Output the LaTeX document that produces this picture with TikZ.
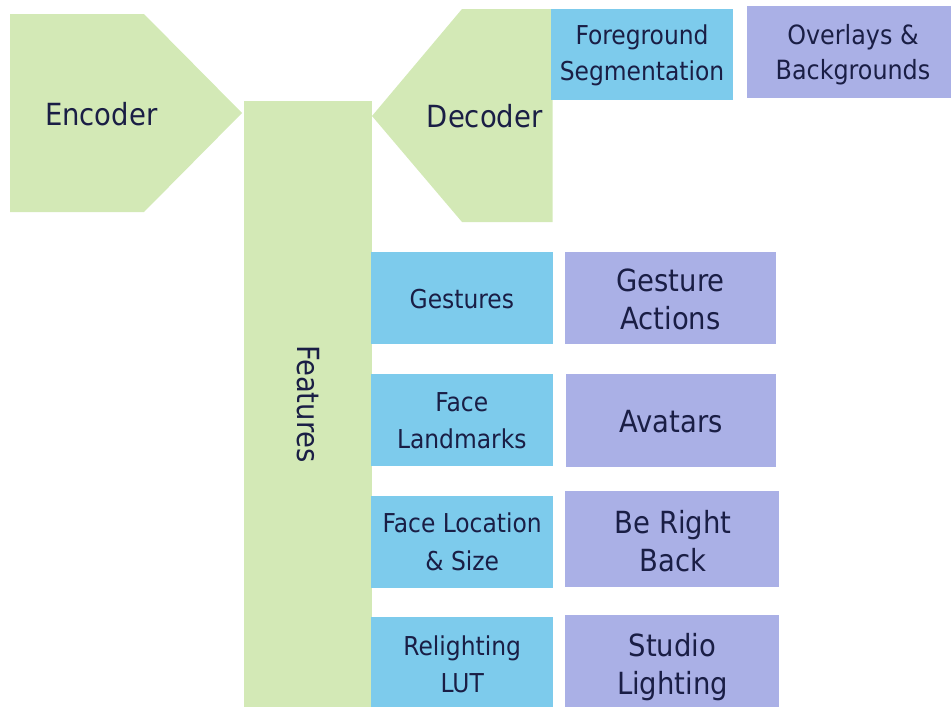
\documentclass[tikz,border=0pt]{standalone}
\usepackage{fontspec}
\setmainfont{DejaVu Sans Condensed}
\definecolor{leaf}{RGB}{211,233,182}
\definecolor{sky}{RGB}{125,203,236}
\definecolor{lilac}{RGB}{170,176,230}
\definecolor{ink}{RGB}{26,30,69}
% two centred lines; the baseline is that of the first line
\newcommand\twolines[2]{\begin{tabular}[t]{@{}c@{}}#1\\#2\end{tabular}}
\tikzset{
  txt/.style={text=ink, inner sep=0pt, anchor=base},
  bluetxt/.style={txt, font=\fontsize{26}{37.5}\selectfont},
  lilactxt/.style={txt, font=\fontsize{30.5}{38}\selectfont},
  bigtxt/.style={txt, font=\fontsize{30.5}{36}\selectfont},
  bluebox/.style={fill=sky, inner sep=0pt},
  lilacbox/.style={fill=lilac, inner sep=0pt},
  greenfill/.style={fill=leaf},
}
\begin{document}
\begin{tikzpicture}[x=1pt,y=-1pt]
\useasboundingbox (0,0) rectangle (951,707);

% encoder / decoder arrows and feature column
\fill[greenfill] (10,14) -- (144,14) -- (242,113) -- (144,212) -- (10,212) -- cycle;
\fill[greenfill] (372,116) -- (462,9) -- (552.7,9) -- (552.7,222) -- (462,222) -- cycle;
\node[greenfill, minimum width=128, minimum height=606, inner sep=0pt] (feat) at (308,404) {};
\node[txt, anchor=center, rotate=-90, font=\fontsize{30.5}{36}\selectfont] (featlbl) at (feat.center) {Features};
\node[bigtxt] (enc) at (101.2,125) {Encoder};
\node[bigtxt] (dec) at (484.7,127.3) {Decoder};

% decoder outputs
\node[bluebox, minimum width=182, minimum height=91.5] (seg) at (641.7,54.5) {};
\node[txt, font=\fontsize{26}{35.7}\selectfont] (seglbl) at (642,44.3) {\twolines{Foreground}{Segmentation}};
\node[lilacbox, minimum width=204.3, minimum height=91.7] (ovl) at (848.8,51.8) {};
\node[txt, font=\fontsize{26.5}{34.7}\selectfont] (ovllbl) at (853,44.3) {\twolines{Overlays \&}{Backgrounds}};

% features
\node[bluebox, minimum width=181.7, minimum height=91.7] (gst) at (461.8,297.8) {};
\node[bluebox, minimum width=181.7, minimum height=91.7] (lmk) at (461.8,419.8) {};
\node[bluebox, minimum width=181.7, minimum height=91.7] (loc) at (461.8,541.8) {};
\node[bluebox, minimum width=181.7, minimum height=90] (lut) at (461.8,662) {};
\node[bluetxt] (gstlbl) at (461.8,308.3) {Gestures};
\node[bluetxt] (lmklbl) at (461.8,411) {\twolines{Face}{Landmarks}};
\node[bluetxt] (loclbl) at (462.2,532.7) {\twolines{Face Location}{\& Size}};
\node[bluetxt] (lutlbl) at (462.2,655) {\twolines{Relighting}{LUT}};

% what each feature drives
\node[lilacbox, minimum width=211, minimum height=91.7] (act) at (670.5,297.8) {};
\node[lilacbox, minimum width=210, minimum height=92.7] (ava) at (671,420.3) {};
\node[lilacbox, minimum width=213.7, minimum height=95.7] (brb) at (671.8,538.8) {};
\node[lilacbox, minimum width=213.7, minimum height=92] (stu) at (671.8,661) {};
\node[lilactxt] (actlbl) at (670.5,291.7) {\twolines{Gesture}{Actions}};
\node[lilactxt] (avalbl) at (671,432.7) {Avatars};
\node[lilactxt] (brblbl) at (673.2,533.3) {\twolines{Be Right}{Back}};
\node[lilactxt] (stulbl) at (672.5,656) {\twolines{Studio}{Lighting}};
\end{tikzpicture}
\end{document}
